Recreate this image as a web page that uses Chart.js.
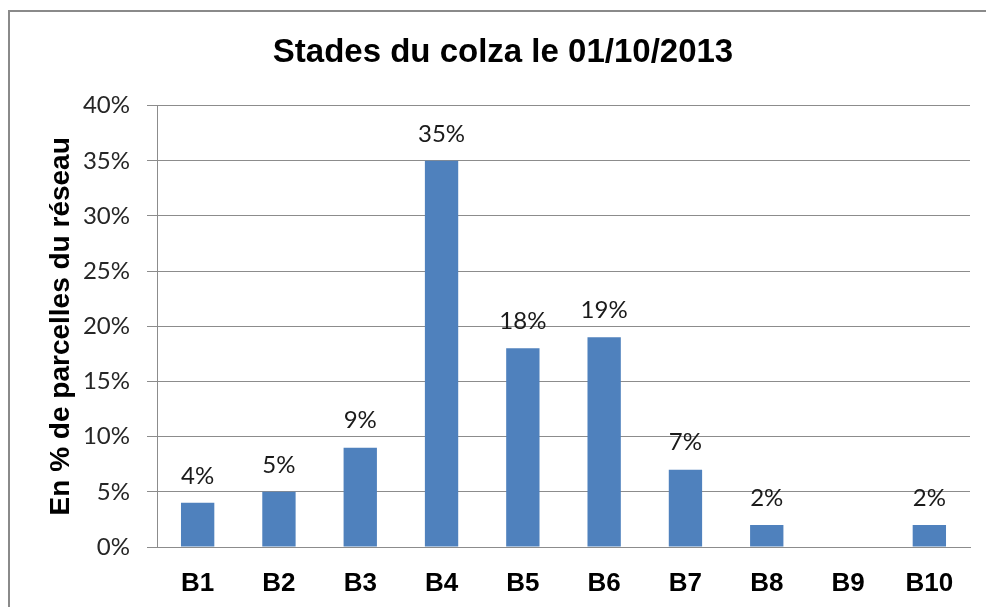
<!DOCTYPE html>
<html>
<head>
<meta charset="utf-8">
<script src="https://cdn.jsdelivr.net/npm/chart.js@4"></script>
<style>
  html, body { margin: 0; padding: 0; background: #fff; overflow: hidden; }
  #frame { position: absolute; left: 8px; top: 10px; width: 1000px; height: 620px; border: 2px solid #8a8a8a; }
  #wrap { position: absolute; left: 0; top: 0; width: 986px; height: 607px; }
</style>
</head>
<body>
<div id="frame"></div>
<div id="wrap"><canvas id="chart" width="986" height="607"></canvas></div>
<script>
const categories = ['B1', 'B2', 'B3', 'B4', 'B5', 'B6', 'B7', 'B8', 'B9', 'B10'];
const values = [4, 5, 9, 35, 18, 19, 7, 2, 0, 2];
const yTicks = [0, 5, 10, 15, 20, 25, 30, 35, 40];

const gridColor = '#8c8c8c';

// value labels above each bar (skip zero, like the original)
const barLabels = {
  id: 'barLabels',
  afterDatasetsDraw(chart) {
    const ctx = chart.ctx;
    const meta = chart.getDatasetMeta(0);
    ctx.save();
    ctx.font = '24px Lato';
    ctx.fillStyle = '#1a1a1a';
    ctx.textAlign = 'center';
    ctx.textBaseline = 'middle';
    meta.data.forEach((bar, i) => {
      const v = values[i];
      if (!v) return;
      ctx.fillText(v + '%', bar.x, bar.y - 27);
    });
    ctx.restore();
  }
};

new Chart(document.getElementById('chart'), {
  type: 'bar',
  data: {
    labels: categories,
    datasets: [{
      data: values,
      backgroundColor: '#4f81bd',
      borderWidth: 0,
      categoryPercentage: 1,
      barPercentage: 0.41
    }]
  },
  options: {
    responsive: false,
    animation: false,
    layout: { padding: { left: 36, right: 16, top: 0, bottom: 0 } },
    plugins: {
      legend: { display: false },
      tooltip: { enabled: false },
      title: {
        display: true,
        text: 'Stades du colza le 01/10/2013',
        color: '#000',
        font: { family: '"Liberation Sans", Arial', size: 33, weight: 'bold', lineHeight: 1.2 },
        padding: { top: 33, bottom: 33 }
      }
    },
    scales: {
      x: {
        grid: { display: false, drawTicks: false, tickLength: 0 },
        border: { display: true, color: gridColor, width: 1 },
        ticks: {
          color: '#000',
          padding: 21,
          font: { family: '"Liberation Sans", Arial', size: 26, weight: 'bold' }
        },
        afterFit(scale) { scale.height = 60; }
      },
      y: {
        min: 0,
        max: 40,
        afterBuildTicks(scale) { scale.ticks = yTicks.map(v => ({ value: v })); },
        grid: { color: gridColor, lineWidth: 1, tickLength: 10, drawTicks: true },
        border: { display: true, color: gridColor, width: 1 },
        ticks: {
          color: '#262626',
          padding: 17,
          font: { family: 'Lato', size: 24 },
          callback: v => v + '%'
        },
        title: {
          display: true,
          text: 'En % de parcelles du réseau',
          color: '#000',
          font: { family: '"Liberation Sans", Arial', size: 28, weight: 'bold', lineHeight: 1.2 },
          padding: { top: 8, bottom: 0 }
        },
        afterFit(scale) { scale.width = 121; }
      }
    }
  },
  plugins: [barLabels]
});
</script>
</body>
</html>
